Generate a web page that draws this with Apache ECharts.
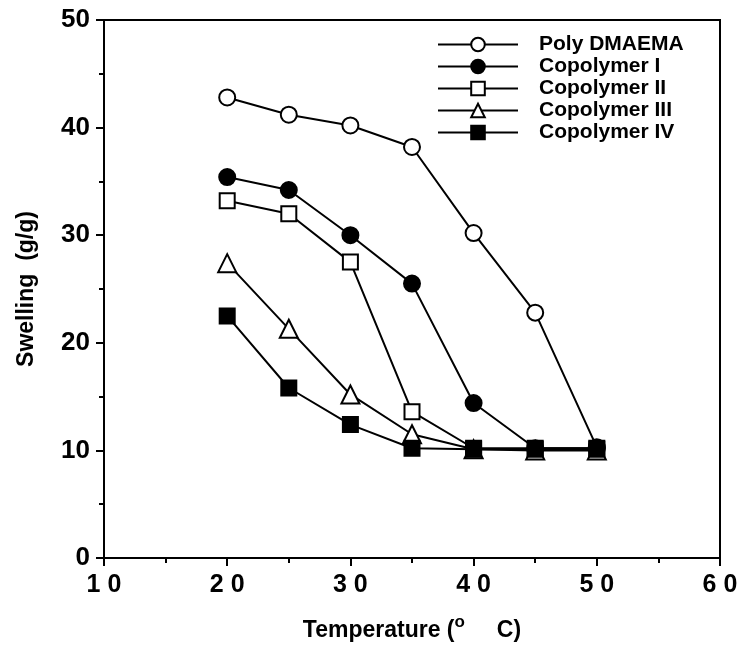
<!DOCTYPE html>
<html>
<head>
<meta charset="utf-8">
<script src="https://cdn.jsdelivr.net/npm/echarts@6/dist/echarts.min.js"></script>
<style>html,body{margin:0;padding:0;background:#fff;}#c{width:742px;height:647px;}</style>
</head>
<body>
<div id="c"></div>
<script>
var temperatures = [20, 25, 30, 35, 40, 45, 50];
var polyDMAEMA  = [42.8, 41.2, 40.2, 38.2, 30.2, 22.8, 10.3];
var copolymerI  = [35.4, 34.2, 30.0, 25.5, 14.4, 10.2, 10.2];
var copolymerII = [33.2, 32.0, 27.5, 13.6, 10.2, 10.2, 10.2];
var copolymerIII= [27.4, 21.3, 15.2, 11.5, 10.1, 10.0, 10.0];
var copolymerIV = [22.5, 15.8, 12.4, 10.2, 10.1, 10.1, 10.1];
var seriesNames = ['Poly DMAEMA', 'Copolymer I', 'Copolymer II', 'Copolymer III', 'Copolymer IV'];

var FONT = 'Liberation Sans';
function pairs(arr){ return temperatures.map(function(t,i){ return [t, arr[i]]; }); }
function mk(name, data, symbol, size, filled){
  return {
    name: name, type: 'line', data: pairs(data),
    symbol: symbol, symbolSize: size, showSymbol: true,
    lineStyle: {color: '#000', width: 2},
    itemStyle: {color: filled ? '#000' : '#fff', borderColor: '#000', borderWidth: 2},
    emphasis: {disabled: true}, animation: false, z: 3
  };
}
var chart = echarts.init(document.getElementById('c'));
chart.setOption({
  animation: false,
  backgroundColor: '#fff',
  grid: {left: 104, right: 22, top: 20, bottom: 87, show: true, borderColor: '#000', borderWidth: 2, backgroundColor: 'transparent'},
  legend: {
    orient: 'vertical', left: 432, top: 29,
    itemWidth: 80, itemHeight: 17, itemGap: 1,
    data: seriesNames,
    textStyle: {fontFamily: FONT, fontWeight: 'bold', fontSize: 21, color: '#000', lineHeight: 17, padding: [0,0,0,16]},
    inactiveColor: '#000'
  },
  xAxis: {
    type: 'value', min: 10, max: 60, interval: 10,
    name: '{a|Temperature (}{s|o}{a|     C)}', nameLocation: 'middle', nameGap: 56,
    nameTextStyle: {rich: {
      a: {fontFamily: FONT, fontWeight: 'bold', fontSize: 23, color: '#000'},
      s: {fontFamily: FONT, fontWeight: 'bold', fontSize: 17, color: '#000', padding: [0,0,16,0]}
    }},
    axisLine: {show: true, onZero: false, lineStyle: {color: '#000', width: 2}},
    axisTick: {show: true, inside: false, length: 8, lineStyle: {color: '#000', width: 2}},
    minorTick: {show: true, splitNumber: 2, length: 5, lineStyle: {color: '#000', width: 2}},
    splitLine: {show: false},
    axisLabel: {margin: 15, fontFamily: FONT, fontWeight: 'bold', fontSize: 25, color: '#000',
      formatter: function(v){ return String(v).split('').join(' '); }}
  },
  yAxis: {
    type: 'value', min: 0, max: 50, interval: 10,
    name: 'Swelling  (g/g)', nameLocation: 'middle', nameGap: 66,
    nameTextStyle: {fontFamily: FONT, fontWeight: 'bold', fontSize: 23, color: '#000'},
    axisLine: {show: true, onZero: false, lineStyle: {color: '#000', width: 2}},
    axisTick: {show: true, inside: false, length: 8, lineStyle: {color: '#000', width: 2}},
    minorTick: {show: true, splitNumber: 2, length: 5, lineStyle: {color: '#000', width: 2}},
    splitLine: {show: false},
    axisLabel: {margin: 14, fontFamily: FONT, fontWeight: 'bold', fontSize: 26, color: '#000'}
  },
  series: [
    mk(seriesNames[0], polyDMAEMA, 'circle', 16, false),
    mk(seriesNames[1], copolymerI, 'circle', 16, true),
    mk(seriesNames[2], copolymerII, 'rect', 15, false),
    mk(seriesNames[3], copolymerIII, 'triangle', 18, false),
    mk(seriesNames[4], copolymerIV, 'rect', 15, true)
  ]
});
</script>
</body>
</html>
